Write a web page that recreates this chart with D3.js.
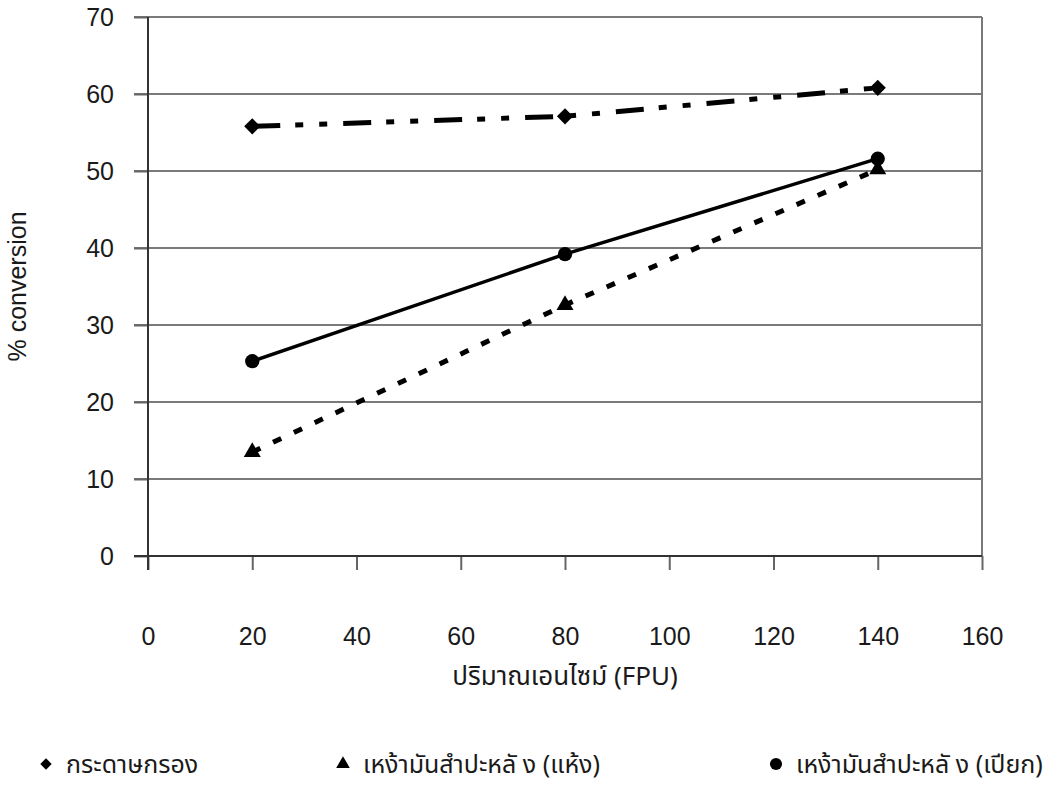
<!DOCTYPE html>
<html>
<head>
<meta charset="utf-8">
<script src="https://cdn.jsdelivr.net/npm/d3@7"></script>
<style>
  html, body { margin: 0; padding: 0; background: #fff; }
  svg text { font-family: "Liberation Sans", Arial, sans-serif; fill: #1a1a1a; }
  svg text.thai { font-family: "Noto Sans Thai", "Noto Sans Thai Looped", "Liberation Sans", "Noto Sans", sans-serif; }
</style>
</head>
<body>
<svg id="chart" width="1051" height="809"></svg>
<script>
// Enzyme loading (FPU) on the x axis
const enzymeDose = [20, 80, 140];
// % conversion for each substrate
const filterPaper = [55.8, 57.1, 60.8];
const cassavaDry = [13.5, 32.6, 50.2];
const cassavaWet = [25.3, 39.2, 51.6];

const seriesNames = ["กระดาษกรอง", "เหง้ามันสำปะหลั ง (แห้ง)", "เหง้ามันสำปะหลั ง (เปียก)"];
const xTicks = [0, 20, 40, 60, 80, 100, 120, 140, 160];
const yTicks = [0, 10, 20, 30, 40, 50, 60, 70];
const xTitle = "ปริมาณเอนไซม์ (FPU)";
const yTitle = "% conversion";

const FS = 25;
const svg = d3.select("#chart");
const plot = { left: 148, right: 982, top: 17, bottom: 556 };

const x = d3.scaleLinear().domain([0, 160]).range([plot.left, plot.right]);
const y = d3.scaleLinear().domain([0, 70]).range([plot.bottom, plot.top]);

// Horizontal gridlines, extended left to form the y tick marks
svg.append("g").selectAll("line").data(yTicks.filter(d => d > 0)).join("line")
  .attr("x1", plot.left - 14).attr("x2", plot.right)
  .attr("y1", d => y(d)).attr("y2", d => y(d))
  .attr("stroke", "#7a7a7a").attr("stroke-width", 2);

// Right frame edge
svg.append("line")
  .attr("x1", plot.right).attr("x2", plot.right)
  .attr("y1", plot.top).attr("y2", plot.bottom)
  .attr("stroke", "#7a7a7a").attr("stroke-width", 2);

// X axis with outward ticks
const xAxis = d3.axisBottom(x).tickValues(xTicks).tickSize(14).tickPadding(57).tickFormat(d3.format("d"));
const gx = svg.append("g").attr("transform", `translate(0,${plot.bottom})`).call(xAxis);
gx.select(".domain").remove();
gx.selectAll(".tick line").attr("stroke", "#666").attr("stroke-width", 2);
gx.selectAll(".tick text").attr("font-size", FS).attr("fill", "#1a1a1a")
  .style("font-family", "'Liberation Sans', Arial, sans-serif");

// Y axis
const yAxis = d3.axisLeft(y).tickValues(yTicks).tickSize(14).tickPadding(20).tickFormat(d3.format("d"));
const gy = svg.append("g").attr("transform", `translate(${plot.left},0)`).call(yAxis);
gy.select(".domain").remove();
gy.selectAll(".tick line").attr("stroke", "#666").attr("stroke-width", 2);
gy.selectAll(".tick text").attr("font-size", FS).attr("fill", "#1a1a1a")
  .style("font-family", "'Liberation Sans', Arial, sans-serif");

// Axis lines
svg.append("line")
  .attr("x1", plot.left - 14).attr("x2", plot.right)
  .attr("y1", plot.bottom).attr("y2", plot.bottom)
  .attr("stroke", "#333").attr("stroke-width", 2);
svg.append("line")
  .attr("x1", plot.left).attr("x2", plot.left)
  .attr("y1", plot.top).attr("y2", plot.bottom + 14)
  .attr("stroke", "#333").attr("stroke-width", 2);

// Series lines
const lineGen = vals => d3.line().x((d, i) => x(enzymeDose[i])).y(d => y(d))(vals);

svg.append("path").attr("d", lineGen(filterPaper))
  .attr("fill", "none").attr("stroke", "#000").attr("stroke-width", 5)
  .attr("stroke-dasharray", "28,15,8,16,8,16");

svg.append("path").attr("d", lineGen(cassavaDry))
  .attr("fill", "none").attr("stroke", "#000").attr("stroke-width", 5)
  .attr("stroke-dasharray", "9,14");

svg.append("path").attr("d", lineGen(cassavaWet))
  .attr("fill", "none").attr("stroke", "#000").attr("stroke-width", 3.5);

// Markers
const markers = [
  { vals: filterPaper, type: d3.symbolSquare, size: 130, rot: 45 },
  { vals: cassavaDry, type: d3.symbolTriangle, size: 125, rot: 0 },
  { vals: cassavaWet, type: d3.symbolCircle, size: 160, rot: 0 }
];
markers.forEach(m => {
  svg.append("g").selectAll("path").data(m.vals).join("path")
    .attr("transform", (d, i) => `translate(${x(enzymeDose[i])},${y(d)}) rotate(${m.rot})`)
    .attr("d", d3.symbol().type(m.type).size(m.size))
    .attr("fill", "#000");
});

// Axis titles
svg.append("text").attr("class", "thai")
  .attr("x", (plot.left + plot.right) / 2).attr("y", 685)
  .attr("text-anchor", "middle").attr("font-size", FS + 1)
  .text(xTitle);

svg.append("text")
  .attr("transform", `translate(26,${(plot.top + plot.bottom) / 2}) rotate(-90)`)
  .attr("text-anchor", "middle").attr("font-size", FS)
  .text(yTitle);

// Legend
const legendItems = [
  { name: seriesNames[0], type: d3.symbolSquare, size: 65, rot: 45, x: 46 },
  { name: seriesNames[1], type: d3.symbolTriangle, size: 80, rot: 0, x: 343 },
  { name: seriesNames[2], type: d3.symbolCircle, size: 115, rot: 0, x: 776 }
];
const leg = svg.append("g").selectAll("g").data(legendItems).join("g")
  .attr("transform", d => `translate(${d.x},764)`);
leg.append("path").attr("d", d => d3.symbol().type(d.type).size(d.size)())
  .attr("transform", d => `rotate(${d.rot})`).attr("fill", "#000");
leg.append("text").attr("class", "thai").attr("x", 20).attr("y", 9).attr("font-size", FS).text(d => d.name);
</script>
</body>
</html>
